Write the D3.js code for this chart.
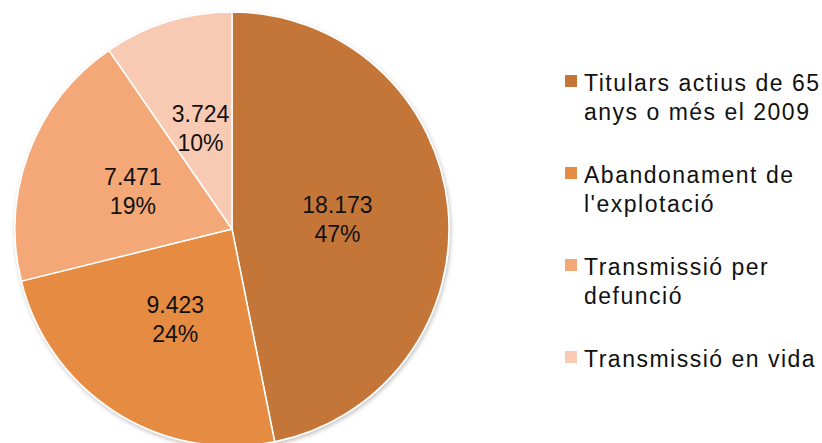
<!DOCTYPE html>
<html>
<head>
  <meta charset="utf-8">
  <title>Titulars actius de 65 anys o més</title>
  <script src="https://d3js.org/d3.v7.min.js"></script>
  <style>
    body { margin: 0; background: #fff; }
    svg { display: block; font-family: "Liberation Sans", Arial, sans-serif; }
    .slice-label { font-size: 23px; fill: #111; text-anchor: middle; }
    .legend text { font-size: 23px; fill: #111; letter-spacing: 1.5px; }
  </style>
</head>
<body>
<div id="chart"></div>
<script>
  // Data
  const categories = [
    "Titulars actius de 65 anys o més el 2009",
    "Abandonament de l'explotació",
    "Transmissió per defunció",
    "Transmissió en vida"
  ];
  const values = [18173, 9423, 7471, 3724];
  // legend text wrapped the same way as the picture
  const legendLines = [
    ["Titulars actius de 65", "anys o més el 2009"],
    ["Abandonament de", "l'explotació"],
    ["Transmissió per", "defunció"],
    ["Transmissió en vida"]
  ];
  const colors = ["#c47638", "#e68b43", "#f5a877", "#f8cab3"];

  const width = 822, height = 443;
  const cx = 232, cy = 229, radius = 217;

  const svg = d3.select("#chart").append("svg")
    .attr("width", width)
    .attr("height", height);

  // soft shadow under the pie
  const defs = svg.append("defs");
  defs.append("filter")
    .attr("id", "shadow")
    .attr("x", "-10%").attr("y", "-10%")
    .attr("width", "120%").attr("height", "120%")
    .append("feDropShadow")
    .attr("dx", 1).attr("dy", 2)
    .attr("stdDeviation", 2)
    .attr("flood-color", "#000")
    .attr("flood-opacity", 0.25);

  const total = d3.sum(values);
  const numFmt = d3.formatLocale({ decimal: ",", thousands: ".", grouping: [3], currency: ["", "€"] }).format(",d");

  const pie = d3.pie().sort(null).value(d => d);
  const arcs = pie(values);

  const arc = d3.arc().innerRadius(0).outerRadius(radius);
  // labels sit about half way out
  const labelArc = d3.arc().innerRadius(0).outerRadius(212);

  const g = svg.append("g").attr("transform", `translate(${cx},${cy})`);

  g.append("g")
    .attr("filter", "url(#shadow)")
    .selectAll("path")
    .data(arcs)
    .join("path")
    .attr("d", arc)
    .attr("fill", (d, i) => colors[i])
    .attr("stroke", "#fff")
    .attr("stroke-width", 1.5);

  const labels = g.selectAll(".slice-label")
    .data(arcs)
    .join("text")
    .attr("class", "slice-label")
    .attr("transform", d => `translate(${labelArc.centroid(d)})`);

  labels.append("tspan")
    .attr("x", 0)
    .attr("y", -6)
    .text(d => numFmt(d.data));
  labels.append("tspan")
    .attr("x", 0)
    .attr("y", 23)
    .text(d => Math.round(d.data / total * 100) + "%");

  // legend
  const legendX = 565, legendY = 91, entryStep = 92, lineStep = 29;
  const legend = svg.append("g").attr("class", "legend")
    .selectAll("g")
    .data(categories)
    .join("g")
    .attr("transform", (d, i) => `translate(${legendX},${legendY + i * entryStep})`);

  legend.append("rect")
    .attr("x", 0)
    .attr("y", -16)
    .attr("width", 12)
    .attr("height", 12)
    .attr("fill", (d, i) => colors[i]);

  legend.append("text")
    .attr("x", 19)
    .selectAll("tspan")
    .data((d, i) => legendLines[i])
    .join("tspan")
    .attr("x", 19)
    .attr("y", (d, j) => j * lineStep)
    .text(d => d);
</script>
</body>
</html>
